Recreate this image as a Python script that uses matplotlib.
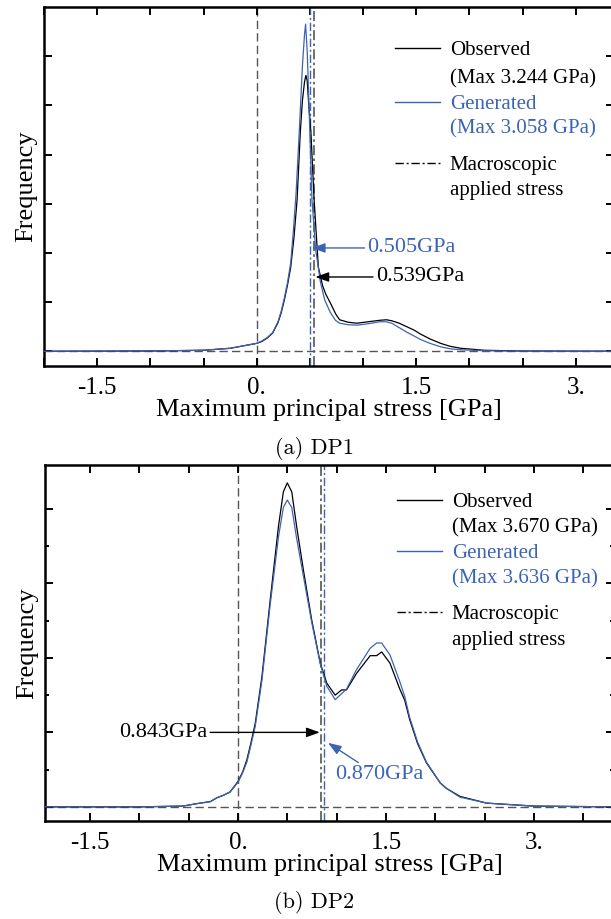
import numpy as np
import matplotlib
matplotlib.use("Agg")
import matplotlib.pyplot as plt

plt.rcParams['font.family'] = ['Liberation Serif', 'DejaVu Serif']
plt.rcParams['axes.unicode_minus'] = False

BLUE = '#3c64b4'
GRAY = '#555555'

# ---- DP1 data ----
dp1_obs_x = [-2.0, -1.0, -0.5, -0.25, 0.0, 0.05, 0.1, 0.15, 0.2, 0.23, 0.26, 0.29,
             0.32, 0.35, 0.38, 0.41, 0.43, 0.45, 0.463, 0.475,
             0.49, 0.51, 0.54, 0.58, 0.62, 0.65, 0.70, 0.745, 0.78, 0.86, 0.94, 1.05, 1.16,
             1.22, 1.27, 1.34, 1.41, 1.48, 1.54, 1.63, 1.73, 1.82, 1.92, 2.14, 2.5, 3.4]
dp1_obs_y = [0.0, 0.005, 0.02, 0.06, 0.16, 0.2, 0.27, 0.37, 0.58, 0.78, 1.04, 1.35,
             1.71, 2.3, 3.08, 4.45, 5.1, 5.48, 5.61, 5.5,
             5.0, 4.45, 3.08, 1.71, 1.33, 1.16, 0.95, 0.75, 0.64, 0.59, 0.57, 0.6, 0.63,
             0.64, 0.62, 0.57, 0.5, 0.43, 0.35, 0.25, 0.16, 0.1, 0.06, 0.02, 0.005, 0.0]
dp1_gen_x = [-2.0, -1.0, -0.5, -0.25, 0.0, 0.05, 0.1, 0.15, 0.2, 0.23, 0.26, 0.29,
             0.32, 0.345, 0.37, 0.40, 0.43, 0.45, 0.46,
             0.475, 0.49, 0.52, 0.555, 0.60, 0.64, 0.69, 0.74, 0.78, 0.86, 0.94, 1.05, 1.16,
             1.22, 1.27, 1.34, 1.41, 1.48, 1.54, 1.63, 1.73, 1.82, 1.92, 2.14, 2.5, 3.4]
dp1_gen_y = [0.0, 0.005, 0.02, 0.06, 0.16, 0.21, 0.28, 0.38, 0.6, 0.81, 1.08, 1.4,
             1.8, 2.45, 3.2, 4.45, 5.8, 6.45, 6.65,
             6.1, 5.12, 3.08, 2.06, 1.4, 1.04, 0.8, 0.63, 0.57, 0.54, 0.53, 0.56, 0.6,
             0.6, 0.57, 0.48, 0.39, 0.31, 0.24, 0.16, 0.09, 0.05, 0.03, 0.01, 0.003, 0.0]
dp1_obs_stress = 0.539
dp1_gen_stress = 0.505
dp1_obs_max = 3.244
dp1_gen_max = 3.058

# ---- DP2 data ----
dp2_x = [-1.96, -1.0, -0.56, -0.385, -0.28, -0.216, -0.14, -0.08, 0.0, 0.045, 0.09,
         0.13, 0.175, 0.243, 0.327, 0.41, 0.46, 0.5, 0.545, 0.595, 0.663, 0.747, 0.834,
         0.9, 0.985, 1.05, 1.1, 1.2, 1.34, 1.405, 1.456, 1.54, 1.64, 1.69, 1.74, 1.82,
         1.91, 2.05, 2.11, 2.25, 2.52, 3.0, 3.82]
dp2_obs_y = [0.0, 0.0, 0.01, 0.05, 0.07, 0.12, 0.16, 0.2, 0.34, 0.46, 0.63,
             0.85, 1.12, 1.75, 2.78, 3.76, 4.23, 4.35, 4.23, 3.76, 3.18, 2.51, 1.93,
             1.66, 1.5, 1.57, 1.57, 1.79, 2.03, 2.03, 2.08, 1.93, 1.58, 1.43, 1.17, 0.85,
             0.59, 0.32, 0.25, 0.14, 0.05, 0.01, 0.0]
dp2_gen_y = [0.0, 0.0, 0.01, 0.05, 0.07, 0.12, 0.16, 0.2, 0.33, 0.45, 0.6,
             0.82, 1.08, 1.7, 2.72, 3.62, 4.02, 4.12, 4.02, 3.6, 3.1, 2.48, 1.92,
             1.62, 1.44, 1.52, 1.58, 1.84, 2.13, 2.2, 2.2, 2.04, 1.68, 1.48, 1.2, 0.87,
             0.6, 0.32, 0.25, 0.13, 0.05, 0.01, 0.0]
dp2_obs_stress = 0.843
dp2_gen_stress = 0.870
dp2_obs_max = 3.670
dp2_gen_max = 3.636

xtick_pos = np.arange(-2.0, 4.0, 0.5)
xtick_lab = {-1.5: '-1.5', 0.0: '0.', 1.5: '1.5', 3.0: '3.'}

W, H = 611, 919
fig = plt.figure(figsize=(W / 100, H / 100), dpi=100)


def px_axes(left, top, right, bottom):
    return fig.add_axes([left / W, 1 - bottom / H, (right - left) / W, (bottom - top) / H])


def style_axes(ax, xlim, ylim):
    for s in ax.spines.values():
        s.set_linewidth(1.8)
    ax.set_xticks(xtick_pos)
    ax.set_xticklabels([xtick_lab.get(round(t, 1), '') for t in xtick_pos])
    ax.set_xlim(*xlim)
    ax.set_ylim(*ylim)
    ax.tick_params(which='both', direction='in', top=True, right=True, width=1.4,
                   labelsize=18, pad=8)
    ax.tick_params(which='major', length=5.5)
    ax.tick_params(which='minor', length=2.6)
    ax.set_xlabel('Maximum principal stress [GPa]', fontsize=19, labelpad=0)
    ax.set_ylabel('Frequency', fontsize=19)
    ax.axvline(0, color=GRAY, lw=1.0, dashes=(6, 3), zorder=1)
    ax.axhline(0, color=GRAY, lw=1.0, dashes=(6, 3), zorder=1)


def legend_block(ax, x0, x1, xt, ys, obs_max, gen_max):
    specs = [('-', 'black', 'Observed', f'(Max {obs_max:.3f} GPa)'),
             ('-', BLUE, 'Generated', f'(Max {gen_max:.3f} GPa)'),
             ((0, (6, 2, 1.5, 2)), 'black', 'Macroscopic', 'applied stress')]
    for i, (ls, col, l1, l2) in enumerate(specs):
        ya, yb = ys[2 * i], ys[2 * i + 1]
        ax.plot([x0, x1], [ya, ya], transform=ax.transAxes, color=col, lw=1.0,
                linestyle=ls, clip_on=False)
        ax.text(xt, ya, l1, transform=ax.transAxes, color=col, fontsize=15,
                va='center_baseline', ha='left')
        ax.text(xt, yb, l2, transform=ax.transAxes, color=col, fontsize=15,
                va='center_baseline', ha='left')


arrow_k = dict(arrowstyle='-|>,head_length=0.5,head_width=0.18', lw=1.0,
               shrinkA=0, shrinkB=1)

# ---------------- (a) DP1 ----------------
ax1 = px_axes(44, 7, 614, 366)
ax1.set_yticks(np.arange(0, 7, 1))
style_axes(ax1, (-2.0, 3.36), (-0.3, 7.0))
ax1.set_yticklabels([])
ax1.yaxis.set_label_coords(-0.012, 0.5)
ax1.plot(dp1_obs_x, dp1_obs_y, color='black', lw=0.9, zorder=3)
ax1.plot(dp1_gen_x, dp1_gen_y, color=BLUE, lw=0.9, zorder=3)
ax1.axvline(dp1_gen_stress, color=BLUE, lw=1.0, linestyle=(0, (6, 2, 1.5, 2)), zorder=2)
ax1.axvline(dp1_obs_stress, color=GRAY, lw=1.2, linestyle=(0, (6, 2, 1.5, 2)), zorder=2)
ax1.annotate(f'{dp1_gen_stress:.3f}GPa', xy=(dp1_gen_stress, 2.1), xytext=(1.04, 2.1),
             color=BLUE, fontsize=16, va='center', ha='left',
             arrowprops=dict(color=BLUE, **arrow_k))
ax1.annotate(f'{dp1_obs_stress:.3f}GPa', xy=(dp1_obs_stress, 1.51), xytext=(1.12, 1.51),
             color='black', fontsize=16, va='center', ha='left',
             arrowprops=dict(color='black', **arrow_k))
legend_block(ax1, 0.616, 0.695, 0.712, [0.885, 0.808, 0.735, 0.667, 0.565, 0.497],
             dp1_obs_max, dp1_gen_max)
fig.text(314 / W, 1 - 448 / H, '(a) DP1', fontsize=16, family='cmr10',
         ha='center', va='center')

# ---------------- (b) DP2 ----------------
ax2 = px_axes(45, 465, 614, 821)
ax2.set_yticks(np.arange(0, 5, 1))
ax2.set_yticks(np.arange(0.5, 4.5, 1), minor=True)
style_axes(ax2, (-1.955, 3.81), (-0.19, 4.59))
ax2.set_yticklabels([])
ax2.yaxis.set_label_coords(-0.012, 0.5)
ax2.plot(dp2_x, dp2_obs_y, color='black', lw=0.9, zorder=3)
ax2.plot(dp2_x, dp2_gen_y, color=BLUE, lw=0.9, zorder=3)
ax2.axvline(dp2_obs_stress, color=GRAY, lw=1.2, linestyle=(0, (6, 2, 1.5, 2)), zorder=2)
ax2.axvline(dp2_gen_stress, color=BLUE, lw=1.0, linestyle=(0, (6, 2, 1.5, 2)), zorder=2)
ax2.annotate(f'{dp2_obs_stress:.3f}GPa', xy=(dp2_obs_stress, 1.0), xytext=(-0.31, 1.0),
             color='black', fontsize=16, va='center', ha='right',
             arrowprops=dict(color='black', **arrow_k))
ax2.annotate(f'{dp2_gen_stress:.3f}GPa', xy=(dp2_gen_stress + 0.03, 0.87), xytext=(0.985, 0.43),
             color=BLUE, fontsize=16, va='center', ha='left',
             arrowprops=dict(color=BLUE, relpos=(0.31, 1.0), **arrow_k))
legend_block(ax2, 0.619, 0.698, 0.715, [0.902, 0.831, 0.758, 0.688, 0.587, 0.514],
             dp2_obs_max, dp2_gen_max)
fig.text(314 / W, 1 - 902 / H, '(b) DP2', fontsize=16, family='cmr10',
         ha='center', va='center')

fig.savefig('out.png', dpi=100)
